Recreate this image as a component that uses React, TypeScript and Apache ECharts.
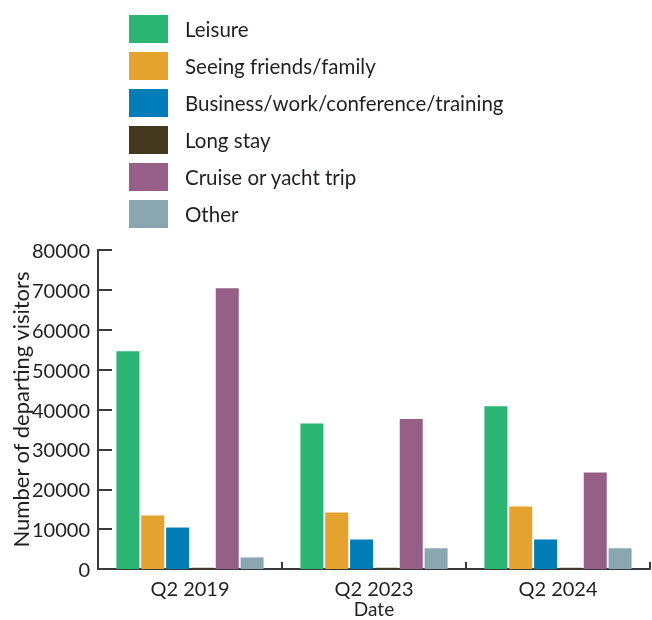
import React, { useEffect, useRef } from "react";
import * as echarts from "echarts";

const categories = ["Q2 2019", "Q2 2023", "Q2 2024"];
const seriesNames = [
  "Leisure",
  "Seeing friends/family",
  "Business/work/conference/training",
  "Long stay",
  "Cruise or yacht trip",
  "Other",
];
const leisure = [54600, 36500, 40800];
const friendsFamily = [13400, 14200, 15700];
const business = [10400, 7400, 7400];
const longStay = [300, 300, 300];
const cruise = [70400, 37600, 24200];
const other = [2900, 5200, 5200];
const colors = ["#2AB573", "#E4A22F", "#007DB8", "#43381E", "#955F88", "#8AA6B0"];
const yTicks = [0, 10000, 20000, 30000, 40000, 50000, 60000, 70000, 80000];

const FONT = "Lato";
const TXT = "#231F20";

export default function App() {
  const ref = useRef<HTMLDivElement>(null);
  useEffect(() => {
    if (!ref.current) return;
    const chart = echarts.init(ref.current, null, { renderer: "svg" });
    const values = [leisure, friendsFamily, business, longStay, cruise, other];
    chart.setOption({
      animation: false,
      legend: {
        orient: "vertical",
        left: 129,
        top: 15,
        padding: 0,
        itemWidth: 39,
        itemHeight: 28,
        itemGap: 9,
        icon: "rect",
        data: seriesNames,
        textStyle: {
          fontFamily: FONT,
          fontSize: 20.5,
          color: TXT,
          padding: [0, 0, 0, 12],
        },
      },
      grid: { left: 98, right: 2, top: 250, bottom: 51, containLabel: false, outerBoundsMode: "none" },
      xAxis: {
        type: "category",
        data: categories,
        name: "Date",
        nameLocation: "middle",
        nameGap: 30,
        nameMoveOverlap: false,
        nameTextStyle: { fontFamily: FONT, fontSize: 19, lineHeight: 19, color: TXT },
        axisLine: { lineStyle: { color: "#3a3a3a", width: 2 } },
        axisTick: { show: true, inside: true, length: 7, lineStyle: { color: "#3a3a3a", width: 2 } },
        axisLabel: { fontFamily: FONT, fontSize: 20, lineHeight: 20, color: TXT, margin: 9 },
      },
      yAxis: {
        type: "value",
        min: yTicks[0],
        max: yTicks[yTicks.length - 1],
        interval: 10000,
        name: "Number of departing visitors",
        nameLocation: "middle",
        nameGap: 67,
        nameMoveOverlap: false,
        nameTextStyle: { fontFamily: FONT, fontSize: 22, color: TXT },
        axisLine: { show: true, lineStyle: { color: "#3a3a3a", width: 2 } },
        axisTick: { show: true, inside: true, length: 14, lineStyle: { color: "#3a3a3a", width: 2 } },
        axisLabel: { fontFamily: FONT, fontSize: 20, color: TXT, margin: 8, formatter: (v: number) => String(v) },
        splitLine: { show: false },
      },
      series: seriesNames.map((name, i) => ({
        name,
        type: "bar",
        data: values[i],
        barWidth: 23,
        barGap: "8%",
        itemStyle: { color: colors[i] },
      })),
    });
    return () => chart.dispose();
  }, []);
  return <div ref={ref} style={{ width: 652, height: 620, position: "fixed", left: 0, top: 0 }} />;
}
